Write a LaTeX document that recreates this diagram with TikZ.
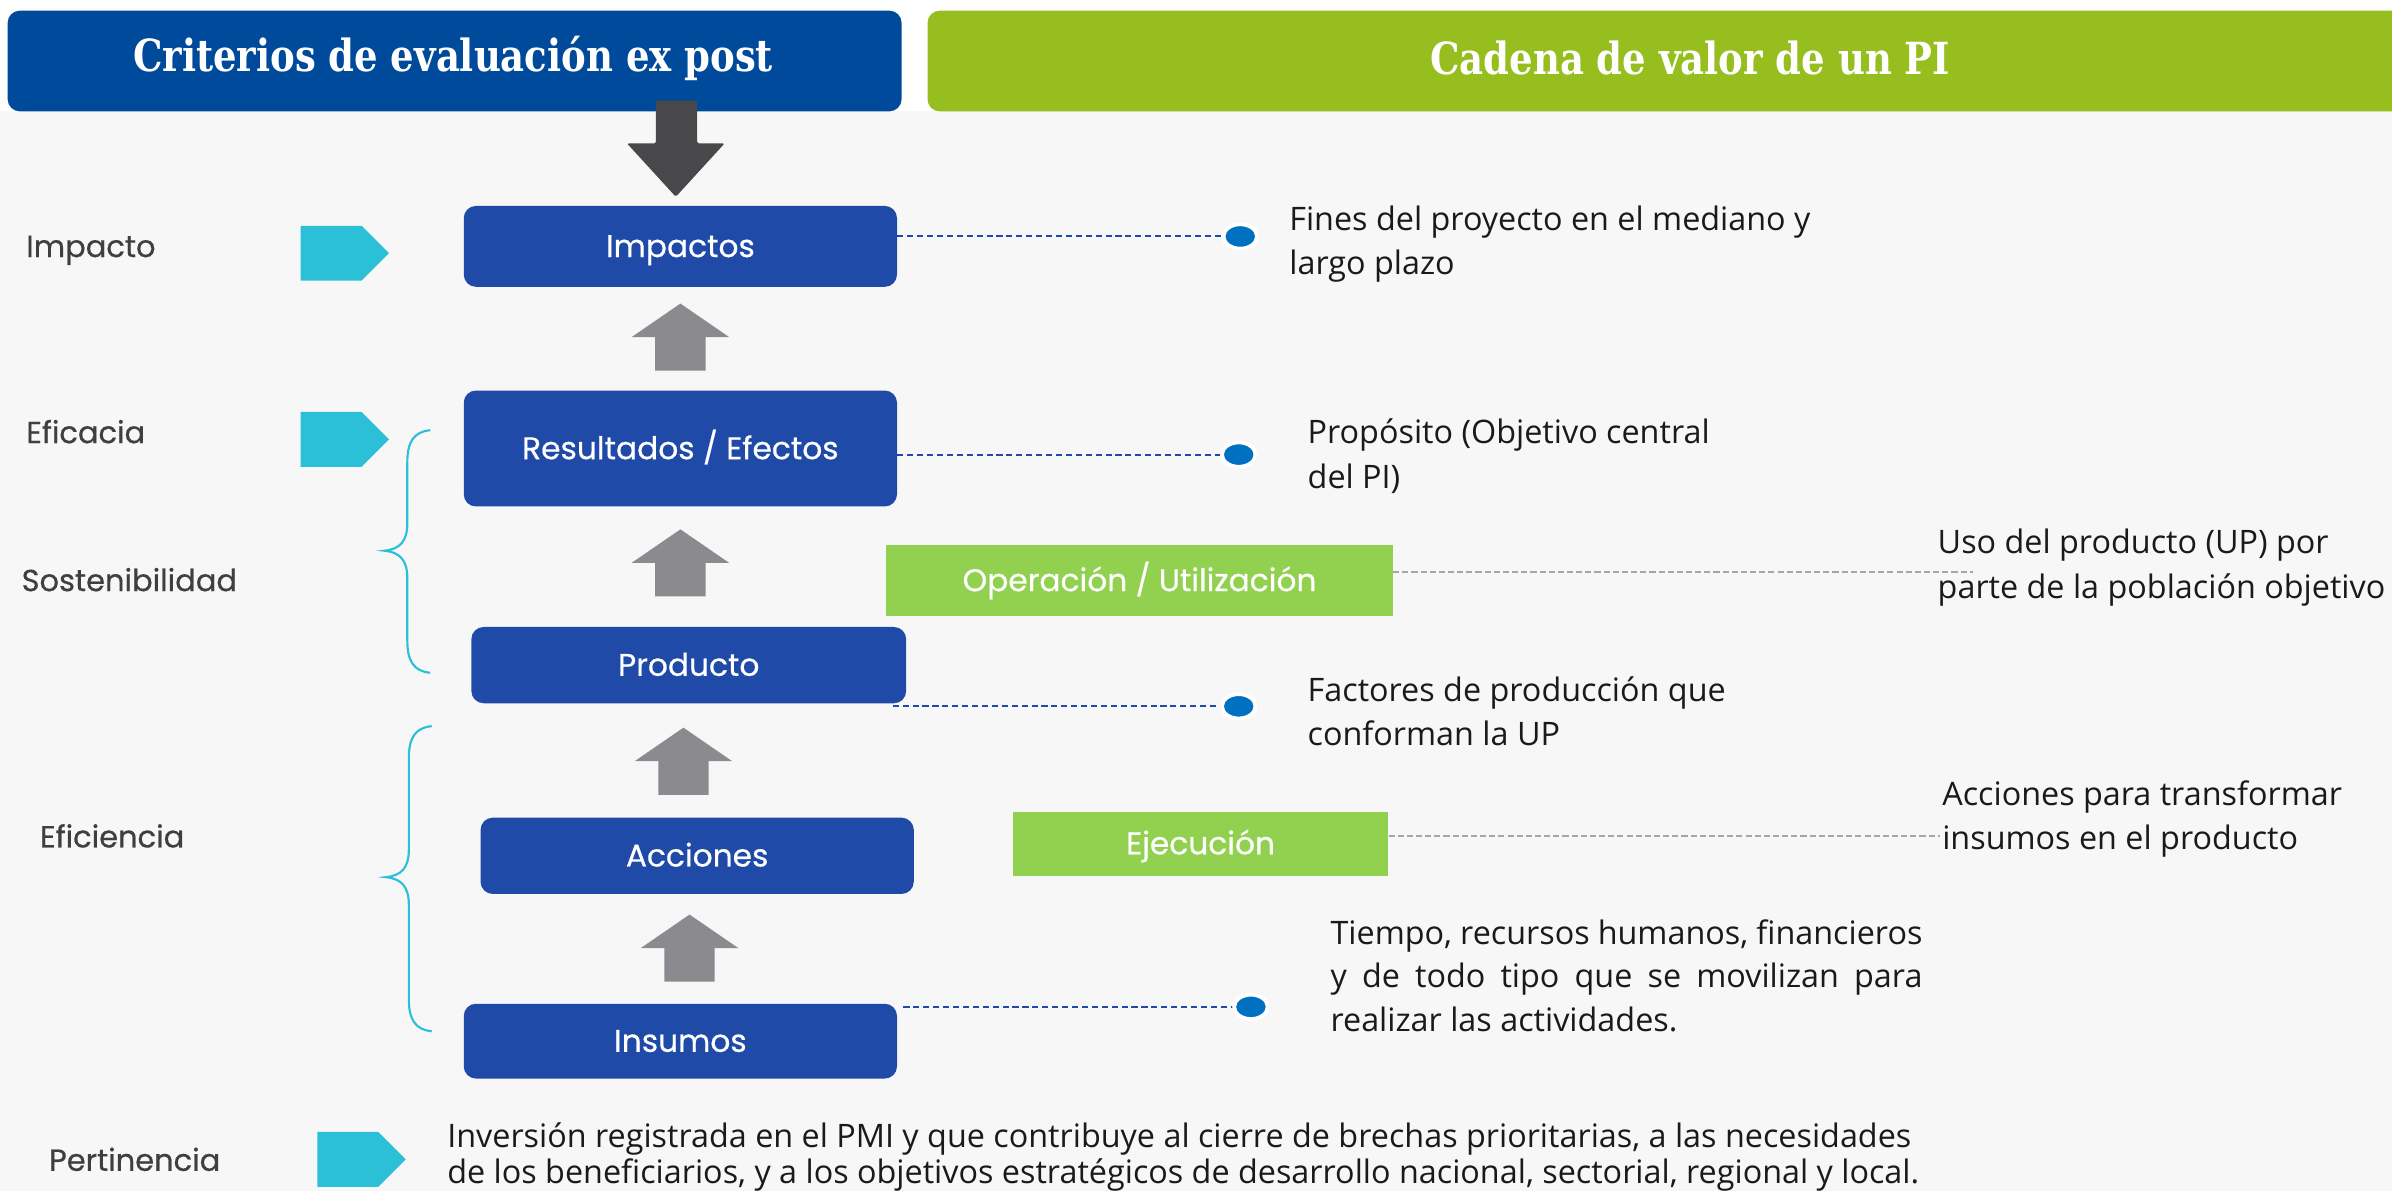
\documentclass[tikz,border=0pt]{standalone}
\usepackage{fontspec}
\setmainfont{Open Sans}
\newfontfamily\titlefont{DejaVu Serif Condensed}
\newfontfamily\popfont[FakeBold=0.5]{Poppins}
\usetikzlibrary{calc,shapes.geometric}
\definecolor{bgc}{HTML}{F7F7F7}
\definecolor{hblue}{HTML}{004A9B}
\definecolor{hgreen}{HTML}{96BE1F}
\definecolor{bblue}{HTML}{1F4AA8}
\definecolor{darr}{HTML}{48484A}
\definecolor{garr}{HTML}{8B8A8F}
\definecolor{cyanc}{HTML}{2BC0D8}
\definecolor{gbox}{HTML}{92D050}
\definecolor{dotc}{HTML}{0070C0}
\definecolor{gdash}{HTML}{A6A6A6}
\definecolor{txt}{HTML}{1A1A1A}
\definecolor{ltxt}{HTML}{3F3F3F}
\tikzset{
  hdrtext/.style={inner sep=0pt, text=white, font=\titlefont\bfseries\fontsize{29}{32}\selectfont},
  bluebox/.style={fill=bblue, rounded corners=8pt, inner sep=0pt, text=white, text height=14pt, text depth=0pt, font=\popfont\fontsize{20.5}{24}\selectfont},
  greenbox/.style={fill=gbox, inner sep=0pt, text=white, text height=14pt, text depth=0pt, font=\popfont\fontsize{20.5}{24}\selectfont},
  lbl/.style={anchor=base west, inner sep=0pt, text=ltxt, font=\popfont\fontsize{20}{24}\selectfont},
  desc/.style={anchor=base west, inner sep=0pt, text=txt, align=left, font=\fontsize{21.2}{29}\selectfont},
  bdash/.style={draw=bblue, line width=1.3pt, dash pattern=on 4pt off 2.5pt},
  gdashed/.style={draw=gdash, line width=1.3pt, dash pattern=on 4pt off 2pt},
  bdot/.style={ellipse, fill=dotc, draw=white, line width=2.5pt, minimum width=22pt, minimum height=16pt, inner sep=0pt},
  brace/.style={draw=cyanc, line width=1.4pt},
  uparrow/.pic={\fill[garr] (-16.5,22) -- (-16.5,0) -- (-32,0) -- (0,-22) -- (32,0) -- (16.5,0) -- (16.5,22) -- cycle;},
  penta/.pic={\fill[cyanc] (-29,-18) -- (11,-18) -- (29,0) -- (11,18) -- (-29,18) -- cycle;}
}
\begin{document}
\begin{tikzpicture}[x=1pt,y=-1pt]
\useasboundingbox (0,0) rectangle (1568,781);
\fill[bgc] (0,0) rectangle (1568,781);
\fill[white] (0,0) rectangle (1568,73);
% headers
\node[fill=hblue, rounded corners=8pt, minimum width=586pt, minimum height=66pt, inner sep=0pt] (h1) at (298,40) {};
\node[hdrtext] (h1t) at (297,38) {\scalebox{0.93}[1]{Criterios de evaluación ex post}};
\fill[hgreen, rounded corners=8pt] (608,7) rectangle (1590,73);
\node[hdrtext] (h2t) at (1108,38) {\scalebox{0.93}[1]{Cadena de valor de un PI}};
% dark down arrow
\fill[darr, rounded corners=1pt] (430,66) -- (457,66) -- (457,94) -- (475,94) -- (443,129) -- (411,94) -- (430,94) -- cycle;
% blue boxes
\node[bluebox, minimum width=284pt, minimum height=53pt] (imp) at (446,161.5) {Impactos};
\node[bluebox, minimum width=284pt, minimum height=76pt] (res) at (446,294) {Resultados / Efectos};
\node[bluebox, minimum width=285pt, minimum height=50pt] (prod) at (451.5,436) {Producto};
\node[bluebox, minimum width=284pt, minimum height=50pt] (acc) at (457,561) {Acciones};
\node[bluebox, minimum width=284pt, minimum height=49pt] (ins) at (446,682.5) {Insumos};
% green boxes
\node[greenbox, minimum width=332pt, minimum height=46pt] (op) at (747,380.5) {Operación / Utilización};
\node[greenbox, minimum width=246pt, minimum height=42pt] (eje) at (787,553) {Ejecución};
% gray up arrows
\pic at (446,221) {uparrow};
\pic at (446,369) {uparrow};
\pic at (448,499) {uparrow};
\pic at (452,621.5) {uparrow};
% pentagons
\pic at (226,166) {penta};
\pic at (226,288) {penta};
\pic at (237,760) {penta};
% left labels
\node[lbl] (l1) at (17,168.5) {Impacto};
\node[lbl] (l2) at (17,290.5) {Eficacia};
\node[lbl] (l3) at (14,387.5) {Sostenibilidad};
\node[lbl] (l4) at (26,555.5) {Eficiencia};
\node[lbl] (l5) at (32,767.5) {Pertinencia};
% braces
\draw[brace] (282,282) .. controls (271,283) and (267,290) .. (267,303) -- (267,343) .. controls (267,355) and (262,360) .. (252,361) .. controls (262,362) and (267,367) .. (267,379) -- (267,420) .. controls (267,433) and (271,440) .. (282,441);
\draw[brace] (283,476) .. controls (272,477) and (268,484) .. (268,497) -- (268,557) .. controls (268,569) and (263,574) .. (253,575) .. controls (263,576) and (268,581) .. (268,593) -- (268,655) .. controls (268,668) and (272,675) .. (283,676);
% dashed connectors to dots
\coordinate (p1) at (813,155);
\coordinate (p2) at (812,298);
\coordinate (p3) at (812,463);
\coordinate (p4) at (820,660);
\draw[bdash] (imp.east |- p1) -- (p1);
\draw[bdash] (res.east |- p2) -- (p2);
\draw[bdash] ($(prod.east |- p3)+(-9,0)$) -- (p3);
\draw[bdash] ($(ins.east |- p4)+(4,0)$) -- (p4);
\node[bdot] (d1) at (p1) {};
\node[bdot] (d2) at (p2) {};
\node[bdot] (d3) at (p3) {};
\node[bdot] (d4) at (p4) {};
% descriptions (anchor = baseline of last line)
\node[desc] (t1) at (845,180) {Fines del proyecto en el mediano y\\largo plazo};
\node[desc] (t2) at (857,320) {Propósito (Objetivo central\\del PI)};
\node[desc] (t3) at (1270,392) {Uso del producto (UP) por\\parte de la población objetivo};
\node[desc] (t4) at (857,489) {Factores de producción que\\conforman la UP};
\node[desc] (t5) at (1273,557) {Acciones para transformar\\insumos en el producto};
\node[desc, font=\fontsize{21.2}{28.5}\selectfont] (t6) at (872,676) {\makebox[388pt][s]{Tiempo, recursos humanos, financieros}\\\makebox[388pt][s]{y de todo tipo que se movilizan para}\\realizar las actividades.};
\node[desc, font=\fontsize{21.2}{24}\selectfont] (t7) at (293,776) {Inversión registrada en el PMI y que contribuye al cierre de brechas prioritarias, a las necesidades\\de los beneficiarios, y a los objetivos estratégicos de desarrollo nacional, sectorial, regional y local.};
% gray dashed connectors
\coordinate (c3) at (1293,375);
\coordinate (c5) at (1272,548);
\draw[gdashed] (op.east |- c3) -- (c3);
\draw[gdashed] (eje.east |- c5) -- (c5);
\end{tikzpicture}
\end{document}
